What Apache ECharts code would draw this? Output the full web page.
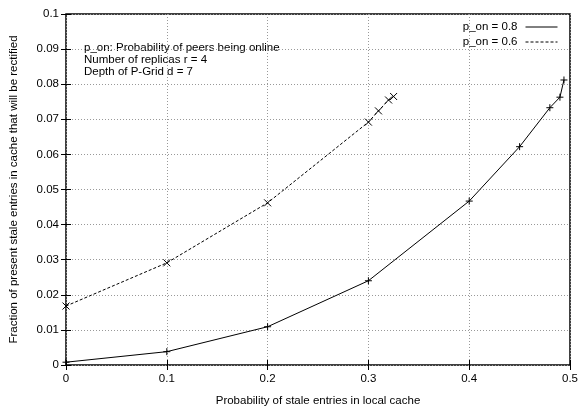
<!DOCTYPE html>
<html>
<head>
<meta charset="utf-8">
<script src="https://cdn.jsdelivr.net/npm/echarts@6/dist/echarts.min.js"></script>
<style>
html,body{margin:0;padding:0;background:#fff;}
#chart{width:581px;height:412px;}
</style>
</head>
<body>
<div id="chart"></div>
<script>
var seriesNames = ['p_on = 0.8', 'p_on = 0.6'];
var x08 = [0, 0.1, 0.2, 0.3, 0.4, 0.45, 0.48, 0.49, 0.494];
var y08 = [0.0008, 0.0038, 0.0109, 0.024, 0.0467, 0.0622, 0.0733, 0.0763, 0.0812];
var x06 = [0, 0.1, 0.2, 0.3, 0.31, 0.32, 0.325];
var y06 = [0.0168, 0.0291, 0.0462, 0.0692, 0.0724, 0.0755, 0.0765];
var annotation = ['p_on: Probability of peers being online', 'Number of replicas r = 4', 'Depth of P-Grid d = 7'];
var xName = 'Probability of stale entries in local cache';
var yName = 'Fraction of present stale entries in cache that will be rectified';

function pairs(xs, ys){ return xs.map(function(x,i){ return [x, ys[i]]; }); }

var FONT = 'Liberation Sans';
var FS = 11.5;
var chart = echarts.init(document.getElementById('chart'));
var plusSym = 'path://M5,0L5,10M0,5L10,5';
var crossSym = 'path://M0,0L10,10M10,0L0,10';

var baseX = {
  type: 'value', min: 0, max: 0.5, interval: 0.1
};
var baseY = {
  type: 'value', min: 0, max: 0.1, interval: 0.01
};

chart.setOption({
  animation: false,
  backgroundColor: '#fff',
  textStyle: {fontFamily: FONT},
  grid: {left: 63, right: 9, top: 14, bottom: 39, show: true, borderColor: '#000', borderWidth: 1.5, backgroundColor: 'transparent'},
  legend: {
    orient: 'vertical', right: 18, top: 16, align: 'right',
    itemWidth: 32, itemHeight: 8, itemGap: 3,
    textStyle: {fontFamily: FONT, fontSize: FS, color: '#000', padding: [0, 3, 0, 0]},
    itemStyle: {color: 'transparent', borderColor: 'transparent', borderWidth: 0},
    lineStyle: {width: 1},
    data: seriesNames
  },
  xAxis: [
    Object.assign({}, baseX, {
      position: 'bottom',
      name: xName, nameLocation: 'middle', nameGap: 30,
      nameTextStyle: {fontFamily: FONT, fontSize: FS, color: '#000'},
      axisLine: {show: false},
      axisTick: {show: true, inside: true, length: 5, lineStyle: {color: '#000'}},
      axisLabel: {fontFamily: FONT, fontSize: FS, color: '#000', margin: 8},
      splitLine: {show: true, lineStyle: {color: '#999', type: [1, 2], width: 1}}
    }),
    Object.assign({}, baseX, {
      position: 'top',
      axisLine: {show: false},
      axisTick: {show: true, inside: true, length: 5, lineStyle: {color: '#000'}},
      axisLabel: {show: false},
      splitLine: {show: false}
    })
  ],
  yAxis: [
    Object.assign({}, baseY, {
      position: 'left',
      name: yName, nameLocation: 'middle', nameGap: 46,
      nameTextStyle: {fontFamily: FONT, fontSize: FS, color: '#000'},
      axisLine: {show: false},
      axisTick: {show: true, inside: true, length: 5, lineStyle: {color: '#000'}},
      axisLabel: {fontFamily: FONT, fontSize: FS, color: '#000', margin: 7},
      splitLine: {show: true, lineStyle: {color: '#999', type: [1, 2], width: 1}}
    }),
    Object.assign({}, baseY, {
      position: 'right',
      axisLine: {show: false},
      axisTick: {show: true, inside: true, length: 5, lineStyle: {color: '#000'}},
      axisLabel: {show: false},
      splitLine: {show: false}
    })
  ],
  graphic: [{
    type: 'text', left: 84, top: 42,
    style: {text: annotation.join('\n'), font: FS + 'px "Liberation Sans"', fill: '#000', lineHeight: 12}
  }],
  series: [
    {
      name: seriesNames[0], type: 'line', xAxisIndex: 0, yAxisIndex: 0,
      data: pairs(x08, y08),
      symbol: plusSym, symbolSize: 7,
      itemStyle: {color: 'transparent', borderColor: '#000', borderWidth: 1},
      lineStyle: {color: '#000', width: 1, type: 'solid'}
    },
    {
      name: seriesNames[1], type: 'line', xAxisIndex: 0, yAxisIndex: 0,
      data: pairs(x06, y06),
      symbol: crossSym, symbolSize: 7,
      itemStyle: {color: 'transparent', borderColor: '#000', borderWidth: 1},
      lineStyle: {color: '#000', width: 1, type: [3, 2]}
    }
  ]
});
</script>
</body>
</html>
